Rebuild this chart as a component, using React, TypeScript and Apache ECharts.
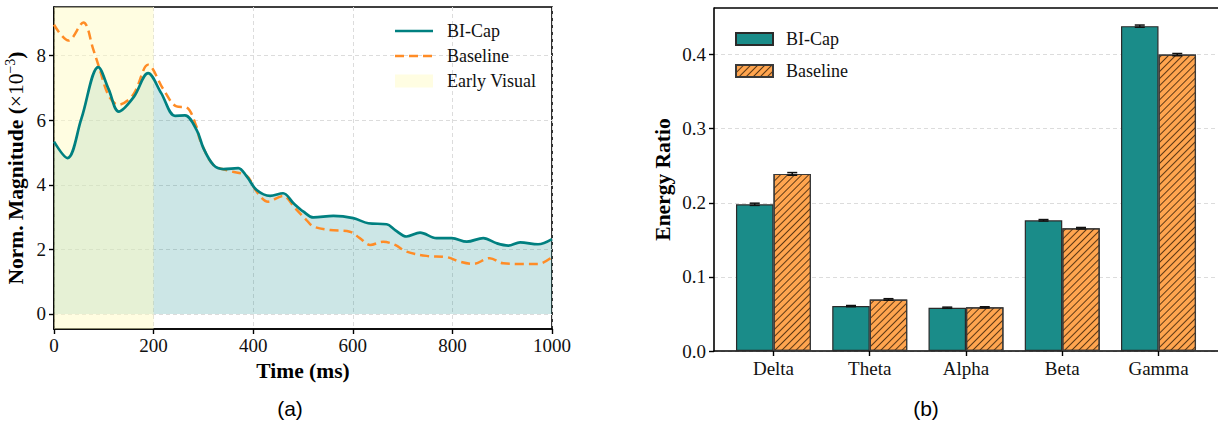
import React, { useEffect, useRef } from 'react';
import * as echarts from 'echarts';

// ---------- (a) temporal magnitude ----------
const timeBICap = [0, 27, 55, 89, 110, 130, 160, 189, 215, 243, 263, 287, 300, 320, 340, 370, 387, 407, 434, 460, 481, 501, 521, 561, 601, 631, 668, 685, 708, 735, 768, 799, 829, 862, 889, 912, 936, 972, 1000];
const magBICap = [5.34, 4.83, 6.05, 7.65, 6.95, 6.27, 6.72, 7.46, 6.85, 6.14, 6.15, 5.68, 5.14, 4.62, 4.49, 4.52, 4.26, 3.84, 3.66, 3.74, 3.43, 3.17, 2.99, 3.04, 2.97, 2.81, 2.78, 2.6, 2.4, 2.52, 2.35, 2.35, 2.24, 2.35, 2.19, 2.12, 2.22, 2.16, 2.32];
const timeBaseline = [0, 29, 59, 79, 92, 109, 129, 159, 189, 220, 246, 266, 286, 293, 320, 353, 387, 407, 430, 460, 484, 507, 521, 554, 594, 614, 635, 661, 685, 708, 748, 789, 815, 842, 875, 902, 942, 972, 1000];
const magBaseline = [8.96, 8.47, 9.03, 8.19, 7.57, 6.79, 6.48, 6.79, 7.72, 6.95, 6.43, 6.4, 5.81, 5.4, 4.62, 4.43, 4.28, 3.79, 3.48, 3.66, 3.28, 2.91, 2.71, 2.6, 2.55, 2.35, 2.14, 2.24, 2.14, 1.93, 1.8, 1.76, 1.62, 1.55, 1.73, 1.57, 1.55, 1.55, 1.76];
const earlyVisual = [0, 200];
const yTicksA = [0, 2, 4, 6, 8];
const legendA = ['BI-Cap', 'Baseline', 'Early Visual'];

// ---------- (b) band energy ----------
const bands = ['Delta', 'Theta', 'Alpha', 'Beta', 'Gamma'];
const ratioBICap = [0.198, 0.0606, 0.0584, 0.1764, 0.4384];
const ratioBaseline = [0.239, 0.0696, 0.0589, 0.1657, 0.4];
const errBICap = [0.0015, 0.0008, 0.0008, 0.001, 0.0015];
const errBaseline = [0.0018, 0.001, 0.0008, 0.001, 0.0015];
const yTicksB = [0, 0.1, 0.2, 0.3, 0.4];
const bandTicks = [0, 1, 2, 3, 4];

const SERIF = "'Liberation Serif', 'Times New Roman', serif";
const SANS = "'Liberation Sans', Arial, sans-serif";
const TEAL = '#008080';
const ORANGE = '#ff8c26';
const BAR_TEAL = '#1a8c89';
const BAR_ORANGE = '#ffa54f';
const SPAN = '#fffde2';
const BAR_W = 37.5;
const DASH = [9, 5];
const TICK_FS = 19;
const TITLE_FS = 21.5;
const LEG_FS = 18;

function errSeries(name: string, vals: number[], errs: number[], off: number) {
  return {
    type: 'custom',
    name,
    xAxisIndex: 1,
    yAxisIndex: 1,
    z: 6,
    silent: true,
    data: vals.map((v, i) => [i, v, errs[i]]),
    renderItem: (params: any, api: any) => {
      const x = api.value(0);
      const y = api.value(1);
      const e = api.value(2);
      const hi = api.coord([x, y + e]);
      const lo = api.coord([x, y - e]);
      const cx = hi[0] + off;
      const st = { stroke: '#111', lineWidth: 1.5 };
      return {
        type: 'group',
        children: [
          { type: 'line', shape: { x1: cx, y1: hi[1], x2: cx, y2: lo[1] }, style: st },
          { type: 'line', shape: { x1: cx - 5, y1: hi[1], x2: cx + 5, y2: hi[1] }, style: st },
          { type: 'line', shape: { x1: cx - 5, y1: lo[1], x2: cx + 5, y2: lo[1] }, style: st },
        ],
      };
    },
  };
}

export default function App() {
  const ref = useRef<HTMLDivElement>(null);
  useEffect(() => {
    document.body.style.margin = '0';
    if (!ref.current) return;
    const chart = echarts.init(ref.current, null, { renderer: 'svg' });
    const lineA = timeBICap.map((t, i) => [t, magBICap[i]]);
    const lineB = timeBaseline.map((t, i) => [t, magBaseline[i]]);
    const yMaxA = 9.51;
    const lgX = 395;
    const lgY = [31, 56, 81];
    const legendGraphics: any[] = [
      { type: 'line', shape: { x1: lgX, y1: lgY[0], x2: lgX + 38, y2: lgY[0] }, style: { stroke: TEAL, lineWidth: 2.7 }, z: 20 },
      { type: 'line', shape: { x1: lgX, y1: lgY[1], x2: lgX + 38, y2: lgY[1] }, style: { stroke: ORANGE, lineWidth: 2.5, lineDash: DASH }, z: 20 },
      { type: 'rect', shape: { x: lgX, y: lgY[2] - 6.5, width: 38, height: 13 }, style: { fill: SPAN }, z: 20 },
      ...legendA.map((t, i) => ({
        type: 'text', x: lgX + 52, y: lgY[i], z: 20,
        style: { text: t, fontFamily: SERIF, fontSize: LEG_FS, fill: '#111', verticalAlign: 'middle', align: 'left' },
      })),
    ];
    const option: any = {
      animation: false,
      backgroundColor: '#fff',
      grid: [
        { left: 54, top: 7, right: 666, bottom: 95, show: true, borderColor: '#000', borderWidth: 1.6, backgroundColor: 'transparent' },
        { left: 714, top: 8, right: -3, bottom: 73, show: false },
      ],
      legend: [
        {
          orient: 'vertical', left: 730, top: 25, itemWidth: 37, itemHeight: 12, itemGap: 14,
          textStyle: { fontFamily: SERIF, fontSize: LEG_FS, color: '#111', padding: [0, 0, 0, 8] },
          formatter: (n: string) => n.replace('bar-', ''),
          data: [{ name: 'bar-BI-Cap', icon: 'rect' }, { name: 'bar-Baseline', icon: 'rect' }],
          selectedMode: false,
        },
      ],
      xAxis: [
        {
          gridIndex: 0, type: 'value', min: 0, max: 1000, interval: 200,
          name: 'Time (ms)', nameLocation: 'middle', nameGap: 30,
          nameTextStyle: { fontFamily: SERIF, fontSize: TITLE_FS, fontWeight: 'bold', color: '#000' },
          axisLine: { show: true, onZero: false, lineStyle: { color: '#000', width: 1.6 } },
          axisTick: { show: true, length: 5, lineStyle: { color: '#000', width: 1.4 } },
          axisLabel: { formatter: (v: number) => String(v), fontFamily: SERIF, fontSize: TICK_FS, color: '#111', margin: 7 },
          splitLine: { show: true, lineStyle: { color: '#dcdcdc', type: [4, 3], width: 1 } },
        },
        {
          gridIndex: 1, type: 'value', min: -0.618, max: 4.618,
          axisLine: { show: true, onZero: false, lineStyle: { color: '#000', width: 1.6 } },
          axisTick: { show: true, length: 5, customValues: bandTicks, lineStyle: { color: '#000', width: 1.4 } },
          axisLabel: { customValues: bandTicks, formatter: (v: number) => bands[Math.round(v)], fontFamily: SERIF, fontSize: TICK_FS, color: '#111', margin: 8 },
          splitLine: { show: false },
        },
      ],
      yAxis: [
        {
          gridIndex: 0, type: 'value', min: -0.465, max: yMaxA,
          name: '{b|Norm. Magnitude (}{r|×10}{s|−3}{b|)}', nameLocation: 'middle', nameGap: 26, nameRotate: 90,
          nameTextStyle: {
            rich: {
              b: { fontFamily: SERIF, fontSize: TITLE_FS, fontWeight: 'bold', color: '#000', lineHeight: 25 },
              r: { fontFamily: SERIF, fontSize: TITLE_FS, color: '#000', lineHeight: 25 },
              s: { fontFamily: SERIF, fontSize: 14, color: '#000', verticalAlign: 'top', lineHeight: 14 },
            },
          },
          axisLine: { show: true, onZero: false, lineStyle: { color: '#000', width: 1.6 } },
          axisTick: { show: true, length: 5, customValues: yTicksA, lineStyle: { color: '#000', width: 1.4 } },
          axisLabel: { customValues: yTicksA, fontFamily: SERIF, fontSize: TICK_FS, color: '#111', margin: 8 },
          splitLine: { show: true, lineStyle: { color: '#dcdcdc', type: [4, 3], width: 1 } },
        },
        {
          gridIndex: 1, type: 'value', min: 0, max: 0.4629,
          name: 'Energy Ratio', nameLocation: 'middle', nameGap: 40, nameRotate: 90,
          nameTextStyle: { fontFamily: SERIF, fontSize: TITLE_FS, fontWeight: 'bold', color: '#000' },
          axisLine: { show: true, onZero: false, lineStyle: { color: '#000', width: 1.6 } },
          axisTick: { show: true, length: 5, customValues: yTicksB, lineStyle: { color: '#000', width: 1.4 } },
          axisLabel: { customValues: yTicksB, formatter: (v: number) => v.toFixed(1), fontFamily: SERIF, fontSize: TICK_FS, color: '#111', margin: 8 },
          splitLine: { show: true, lineStyle: { color: '#dcdcdc', type: [4, 3], width: 1 } },
        },
      ],
      series: [
        {
          name: '_fill', type: 'line', xAxisIndex: 0, yAxisIndex: 0, data: lineA, smooth: 0.35,
          symbol: 'none', silent: true, z: 2,
          lineStyle: { width: 0, opacity: 0 },
          areaStyle: { color: 'rgba(0,128,128,0.2)', opacity: 1, origin: 0 },
        },
        {
          name: 'Early Visual', type: 'line', xAxisIndex: 0, yAxisIndex: 0,
          data: earlyVisual.map((t) => [t, yMaxA]), symbol: 'none', silent: true, z: 3,
          lineStyle: { width: 0, opacity: 0 },
          areaStyle: { color: 'rgba(255,252,196,0.5)', opacity: 1, origin: 'start' },
        },
        {
          name: 'BI-Cap', type: 'line', xAxisIndex: 0, yAxisIndex: 0, data: lineA, smooth: 0.35,
          symbol: 'none', z: 5, lineStyle: { color: TEAL, width: 2.7 },
        },
        {
          name: 'Baseline', type: 'line', xAxisIndex: 0, yAxisIndex: 0, data: lineB, smooth: 0.35,
          symbol: 'none', z: 4, lineStyle: { color: ORANGE, width: 2.5, type: DASH },
        },
        {
          name: 'bar-BI-Cap', type: 'bar', xAxisIndex: 1, yAxisIndex: 1,
          data: ratioBICap.map((v, i) => [i, v]), barWidth: BAR_W, barGap: '0%', z: 3,
          itemStyle: { color: BAR_TEAL, borderColor: '#2a2a2a', borderWidth: 1.2 },
        },
        {
          name: 'bar-Baseline', type: 'bar', xAxisIndex: 1, yAxisIndex: 1,
          data: ratioBaseline.map((v, i) => [i, v]), barWidth: BAR_W, barGap: '0%', z: 3,
          itemStyle: {
            color: BAR_ORANGE, borderColor: '#3a3a3a', borderWidth: 1.2,
            decal: {
              symbol: 'rect', symbolSize: 1, dashArrayX: [1, 0], dashArrayY: [1, 4],
              rotation: -Math.PI / 4, color: 'rgba(40,20,0,0.75)',
            },
          },
        },
        errSeries('err-BI-Cap', ratioBICap, errBICap, -BAR_W / 2),
        errSeries('err-Baseline', ratioBaseline, errBaseline, BAR_W / 2),
      ],
      graphic: [
        ...legendGraphics,
        { type: 'line', shape: { x1: 714, y1: 8, x2: 1218, y2: 8 }, style: { stroke: '#000', lineWidth: 1.6 }, z: 20 },
        { type: 'text', x: 290, y: 408, style: { text: '(a)', fontFamily: SANS, fontSize: 21, fill: '#000', align: 'center', verticalAlign: 'middle' } },
        { type: 'text', x: 926, y: 408, style: { text: '(b)', fontFamily: SANS, fontSize: 21, fill: '#000', align: 'center', verticalAlign: 'middle' } },
      ],
    };
    chart.setOption(option);
    return () => chart.dispose();
  }, []);
  return <div ref={ref} style={{ width: 1218, height: 424 }} />;
}
